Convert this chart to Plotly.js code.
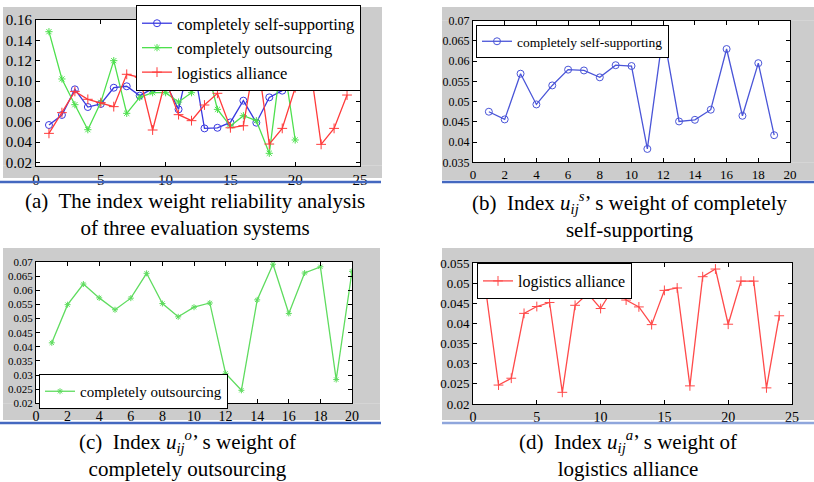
<!DOCTYPE html>
<html>
<head>
<meta charset="utf-8">
<script src="https://cdn.plot.ly/plotly-3.0.1.min.js"></script>
<style>html,body{margin:0;padding:0;background:#fff;}#chart{width:814px;height:482px;}</style>
</head>
<body>
<div id="chart"></div>
<script>
// ---------- data ----------
const seriesNames = ['completely self-supporting', 'completely outsourcing', 'logistics alliance'];

// panel (a): reliability analysis of three evaluation systems
const aSelfX = [1,2,3,4,5,6,7,8,9,10,11,12,13,14,15,16,17,18,19];
const aSelfY = [0.0567,0.0666,0.0918,0.0744,0.0774,0.0934,0.0948,0.0856,0.0925,0.0980,0.0721,0.1280,0.0534,0.0540,0.0593,0.0807,0.0590,0.0839,0.0905];
const aOutX = [1,2,3,4,5,6,7,8,9,10,11,12,13,14,15,16,17,18,19,20];
const aOutY = [0.1485,0.1020,0.0767,0.0521,0.0790,0.1200,0.0682,0.0839,0.0885,0.0885,0.0793,0.0885,0.1233,0.0721,0.0557,0.0659,0.0610,0.0289,0.1280,0.0420];
const aAllX = [1,2,3,4,5,6,7,8,9,10,11,12,13,14,15,16,17,18,19,20,21,22,23,24];
const aAllY = [0.0485,0.0689,0.0898,0.0820,0.0787,0.0748,0.1066,0.1036,0.0518,0.1010,0.0669,0.0610,0.0764,0.0879,0.0540,0.0560,0.1305,0.0380,0.0534,0.0934,0.1295,0.0377,0.0534,0.0862];

// panel (b): completely self-supporting
const bX = [1,2,3,4,5,6,7,8,9,10,11,12,13,14,15,16,17,18,19];
const bY = [0.0475,0.0456,0.0569,0.0493,0.0540,0.0579,0.0577,0.0560,0.0590,0.0588,0.0383,0.0671,0.0451,0.0455,0.0480,0.0630,0.0465,0.0595,0.0417];

// panel (c): completely outsourcing
const cX = [1,2,3,4,5,6,7,8,9,10,11,12,13,14,15,16,17,18,19,20];
const cY = [0.0414,0.0549,0.0622,0.0573,0.0531,0.0572,0.0660,0.0553,0.0506,0.0540,0.0555,0.0306,0.0246,0.0566,0.0692,0.0518,0.0661,0.0683,0.0284,0.0667];

// panel (d): logistics alliance
const dX = [1,2,3,4,5,6,7,8,9,10,11,12,13,14,15,16,17,18,19,20,21,22,23,24];
const dY = [0.0483,0.0247,0.0264,0.0425,0.0442,0.0452,0.0229,0.0445,0.0474,0.0437,0.0488,0.0458,0.0441,0.0397,0.0482,0.0488,0.0245,0.0516,0.0535,0.0398,0.0505,0.0505,0.0240,0.0419];

const captions = [
  '(a)  The index weight reliability analysis<br>of three evaluation systems',
  '(b)  Index <i>u</i><sub><i>ij</i></sub><sup><i>s</i></sup>’ s weight of completely<br>self-supporting',
  '(c)  Index <i>u</i><sub><i>ij</i></sub><sup><i>o</i></sup>’ s weight of<br>completely outsourcing',
  '(d)  Index <i>u</i><sub><i>ij</i></sub><sup><i>a</i></sup>’ s weight of<br>logistics alliance'
];

// ---------- helpers ----------
const W = 814, H = 482;
const px = v => v / W;
const py = v => 1 - v / H;
const SERIF = 'Liberation Serif';

function axis(domain, range, dtick, fontSize, anchor, fmt) {
  const a = {
    domain: domain, range: range, dtick: dtick, tick0: 0,
    showline: true, linecolor: '#000', linewidth: 1, mirror: 'ticks',
    ticks: 'inside', ticklen: 4, tickcolor: '#000',
    showgrid: false, zeroline: false, anchor: anchor,
    tickfont: {family: SERIF, size: fontSize, color: '#000'}
  };
  if (fmt) a.tickformat = fmt;
  return a;
}

const BLUE = '#3a3ae0', GREEN = '#4ee04e', RED = '#ff3b3b';

const traces = [
  {x: aSelfX, y: aSelfY, name: seriesNames[0], mode: 'lines+markers', xaxis: 'x', yaxis: 'y', legend: 'legend',
   line: {color: BLUE, width: 1.3}, marker: {symbol: 'circle-open', size: 7, color: BLUE, line: {width: 1}}},
  {x: aOutX, y: aOutY, name: seriesNames[1], mode: 'lines+markers', xaxis: 'x', yaxis: 'y', legend: 'legend',
   line: {color: GREEN, width: 1.3}, marker: {symbol: 'asterisk-open', size: 6, color: GREEN, line: {width: 1}}},
  {x: aAllX, y: aAllY, name: seriesNames[2], mode: 'lines+markers', xaxis: 'x', yaxis: 'y', legend: 'legend',
   line: {color: RED, width: 1.3}, marker: {symbol: 'cross-thin-open', size: 7, color: RED, line: {width: 1, color: RED}}},
  {x: bX, y: bY, name: seriesNames[0], mode: 'lines+markers', xaxis: 'x2', yaxis: 'y2', legend: 'legend2',
   line: {color: '#4a55d8', width: 1.3}, marker: {symbol: 'circle-open', size: 7, color: '#4a55d8', line: {width: 1}}},
  {x: cX, y: cY, name: seriesNames[1], mode: 'lines+markers', xaxis: 'x3', yaxis: 'y3', legend: 'legend3',
   line: {color: '#5fdc5f', width: 1.3}, marker: {symbol: 'asterisk-open', size: 5, color: '#5fdc5f', line: {width: 1}}},
  {x: dX, y: dY, name: seriesNames[2], mode: 'lines+markers', xaxis: 'x4', yaxis: 'y4', legend: 'legend4',
   line: {color: '#ff4a4a', width: 1.3}, marker: {symbol: 'cross-thin-open', size: 7, color: '#ff4a4a', line: {width: 1, color: '#ff4a4a'}}}
];

function legendBox(x, y, size) {
  return {x: px(x), y: py(y), xref: 'paper', yref: 'paper', xanchor: 'left', yanchor: 'top',
          bgcolor: '#fff', bordercolor: '#000', borderwidth: 1,
          font: {family: SERIF, size: size, color: '#000'}, tracegroupgap: 0, itemwidth: 30};
}

function rect(x0, y0, x1, y1, color) {
  return {type: 'rect', xref: 'paper', yref: 'paper', x0: px(x0), x1: px(x1), y0: py(y1), y1: py(y0),
          fillcolor: color, line: {width: 0}, layer: 'below'};
}
// gray frame around a plot box, made of four strips so the plot area stays white
function frame(outer, box, color) {
  const [ox0, oy0, ox1, oy1] = outer;
  const [bx0, by0, bx1, by1] = box;
  return [
    rect(ox0, oy0, ox1, by0, color),
    rect(ox0, by1, ox1, oy1, color),
    rect(ox0, by0, bx0, by1, color),
    rect(bx1, by0, ox1, by1, color)
  ];
}
function hline(x0, x1, y, color) {
  return {type: 'line', xref: 'paper', yref: 'paper', x0: px(x0), x1: px(x1), y0: py(y), y1: py(y),
          line: {color: color, width: 2.5}};
}
function caption(text, x, y) {
  return {text: text, x: px(x), y: py(y), xref: 'paper', yref: 'paper', showarrow: false,
          xanchor: 'center', yanchor: 'middle', align: 'center',
          font: {family: SERIF, size: 21, color: '#000'}};
}

// plot-area pixel boxes [left, top, right, bottom]
const boxA = [36, 20, 360, 165.7];
const boxB = [473, 20.7, 790, 162.3];
const boxC = [36, 262, 352, 403.3];
const boxD = [473, 263, 792, 404];

const layout = {
  width: W, height: H, margin: {l: 0, r: 0, t: 0, b: 0},
  paper_bgcolor: '#ffffff', plot_bgcolor: '#ffffff',
  showlegend: true,
  font: {family: SERIF},
  xaxis:  axis([px(boxA[0]), px(boxA[2])], [0, 25], 5, 15, 'y'),
  yaxis:  axis([py(boxA[3]), py(boxA[1])], [0.0167, 0.16], 0.02, 15, 'x', '.2f'),
  xaxis2: axis([px(boxB[0]), px(boxB[2])], [0, 20], 2, 13, 'y2'),
  yaxis2: axis([py(boxB[3]), py(boxB[1])], [0.035, 0.07], 0.005, 12, 'x2'),
  xaxis3: axis([px(boxC[0]), px(boxC[2])], [0, 20], 2, 14, 'y3'),
  yaxis3: axis([py(boxC[3]), py(boxC[1])], [0.02, 0.07], 0.005, 11, 'x3'),
  xaxis4: axis([px(boxD[0]), px(boxD[2])], [0, 25], 5, 14, 'y4'),
  yaxis4: axis([py(boxD[3]), py(boxD[1])], [0.02, 0.055], 0.005, 13, 'x4'),
  legend:  legendBox(136, 5, 16.5),
  legend2: legendBox(476, 25, 13.5),
  legend3: legendBox(39, 374, 15),
  legend4: legendBox(477, 263, 16),
  shapes: [].concat(
    frame([3, 7, 382, 178], boxA, '#cccccc'),
    frame([442, 7, 814, 180], boxB, '#cccccc'),
    frame([3, 248, 380, 420], boxC, '#cccccc'),
    frame([442, 248, 814, 420], boxD, '#cccccc'),
    [
      hline(0, 381, 182, '#4468c0'),
      hline(442, 814, 182, '#4468c0'),
      hline(0, 381, 423, '#4468c0'),
      hline(442, 814, 423, '#8fa6dc')
    ]
  ),
  annotations: [
    caption(captions[0], 195, 215),
    caption(captions[1], 630, 215),
    caption(captions[2], 187, 454),
    caption(captions[3], 628, 454)
  ]
};

Plotly.newPlot('chart', traces, layout, {displayModeBar: false, staticPlot: true});
</script>
</body>
</html>
